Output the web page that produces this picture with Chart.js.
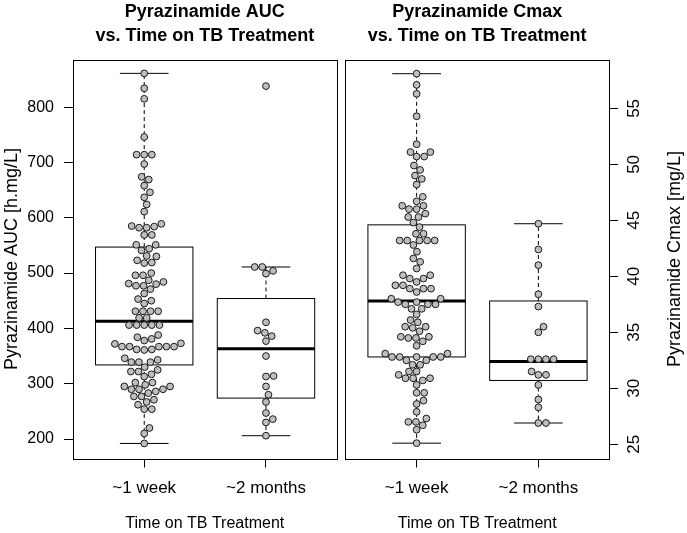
<!DOCTYPE html>
<html>
<head>
<meta charset="utf-8">
<script src="https://cdn.jsdelivr.net/npm/chart.js@4"></script>
<style>
  body { margin: 0; background: #fff; }
  canvas { position: absolute; top: 0; }
</style>
</head>
<body>
<canvas id="auc" width="341" height="533" style="left:0"></canvas>
<canvas id="cmax" width="346" height="533" style="left:341px"></canvas>
<script>
const groups = ['~1 week', '~2 months'];

// Pyrazinamide AUC [h.mg/L]
const aucWeek = [861, 834, 815, 746, 714, 714, 714, 697, 674, 669, 658, 646, 637, 624, 611,
  589, 585, 584, 582, 582, 569, 569, 551, 551, 544, 541, 531, 530,
  523, 519, 518, 500, 496, 496, 487, 484, 481, 480, 477, 477, 471,
  463, 453, 450, 445, 431, 431, 431, 431, 419, 419, 406, 406, 406, 406, 406,
  388, 384, 381, 378, 373, 372, 367, 367, 367, 367, 367, 362, 362, 361,
  346, 343, 339, 339, 339, 330, 325, 322, 322, 317, 313,
  302, 302, 298, 295, 295, 290, 290, 290, 286, 283, 277, 277, 271, 267, 262, 254, 254,
  220, 210, 192];
const aucMonths = [838, 511, 511, 504, 499, 411, 396, 392, 386, 377, 350, 314, 313, 295, 280, 267, 247, 236, 230, 206];

// Pyrazinamide Cmax [mg/L]
const cmaxWeek = [58.1, 57.1, 56.3, 54.3, 51.8, 51.1, 51.1, 50.7, 50.7, 49.9, 49.5, 49.0, 48.7, 48.2,
  47.1, 46.7, 46.3, 46.3, 46.0, 46.0, 45.6, 45.3, 45.3, 44.8, 44.4, 43.8, 43.8,
  43.2, 43.2, 43.2, 43.2, 43.2, 42.8, 42.2, 41.6, 41.3, 40.7, 40.1, 40.1, 39.8, 39.8,
  39.5, 39.2, 39.2, 38.9, 38.9, 38.9, 38.6, 38.0, 38.0, 37.7, 37.7, 37.5, 37.5, 37.5,
  37.1, 37.1, 36.6, 36.1, 35.9, 35.5, 35.5, 35.4, 35.1, 34.6, 34.6, 34.5, 34.5, 34.2,
  33.8, 33.1, 33.1, 32.8, 32.8, 32.8, 32.8, 32.8, 32.5, 32.5, 32.1, 32.1, 31.5, 31.5,
  31.2, 30.9, 30.9, 30.9, 30.7, 30.3, 29.6, 29.6, 28.9, 28.6, 27.9, 27.3, 27.0, 27.0,
  26.7, 26.3, 25.1];
const cmaxMonths = [44.7, 42.4, 41.0, 38.4, 37.3, 35.5, 35.0, 32.6, 32.6, 32.6, 32.6,
  31.5, 31.2, 31.2, 30.3, 29.0, 28.3, 26.9, 26.9];

// box stats: lower whisker, Q1, median, Q3, upper whisker
const aucBoxWeek = [192, 334, 413, 547, 861];
const aucBoxMonths = [206, 274, 363, 454, 511];
const cmaxBoxWeek = [25.1, 32.8, 37.8, 44.6, 58.1];
const cmaxBoxMonths = [26.9, 30.7, 32.4, 37.8, 44.7];

const aucTicks = [200, 300, 400, 500, 600, 700, 800];
const cmaxTicks = [25, 30, 35, 40, 45, 50, 55];

const FONT = '"Liberation Sans", Arial, sans-serif';

// boxplots + frame, drawn under the points
const boxPlugin = {
  id: 'boxes',
  beforeDatasetsDraw(chart, args, opts) {
    const {ctx, chartArea: a, scales: {x, y}} = chart;
    const line = (x1, y1, x2, y2) => { ctx.beginPath(); ctx.moveTo(x1, y1); ctx.lineTo(x2, y2); ctx.stroke(); };
    ctx.save();
    ctx.strokeStyle = '#000';
    opts.stats.forEach((s, i) => {
      const cx = x.getPixelForValue(i + 1);
      const half = x.getPixelForValue(i + 1.4) - cx;
      const cap = half / 2;
      const [lo, q1, med, q3, hi] = s.map(v => y.getPixelForValue(v));
      ctx.lineWidth = 1;
      ctx.setLineDash([4, 3]);
      line(cx, q3, cx, hi);
      line(cx, q1, cx, lo);
      ctx.setLineDash([]);
      line(cx - cap, hi, cx + cap, hi);
      line(cx - cap, lo, cx + cap, lo);
      ctx.strokeRect(cx - half, q3, 2 * half, q1 - q3);
      ctx.lineWidth = 3;
      line(cx - half, med, cx + half, med);
    });
    ctx.lineWidth = 1;
    ctx.strokeRect(Math.round(a.left) + 0.5, Math.round(a.top) + 0.5,
      Math.round(a.right - a.left), Math.round(a.bottom - a.top));
    ctx.restore();
  }
};

// right-hand axis: labels read bottom-to-top like R
const rightAxisPlugin = {
  id: 'rightAxis',
  afterDraw(chart, args, opts) {
    if (!opts.title) return;
    const {ctx, chartArea: a, scales: {y}} = chart;
    ctx.save();
    ctx.fillStyle = '#000';
    ctx.textAlign = 'center';
    ctx.textBaseline = 'middle';
    ctx.font = '17px ' + FONT;
    opts.ticks.forEach(v => {
      ctx.save();
      ctx.translate(a.right + 25, y.getPixelForValue(v));
      ctx.rotate(-Math.PI / 2);
      ctx.fillText(String(v), 0, 0);
      ctx.restore();
    });
    ctx.font = '18px ' + FONT;
    ctx.translate(a.right + 66, (a.top + a.bottom) / 2);
    ctx.rotate(-Math.PI / 2);
    ctx.fillText(opts.title, 0, 0);
    ctx.restore();
  }
};

// beeswarm ("swarm" method, ascending priority), computed in pixels
function swarm(chart, values, center) {
  const x = chart.scales.x, y = chart.scales.y;
  const pxPerUnit = x.getPixelForValue(2) - x.getPixelForValue(1);
  const d = 7.6;
  const pts = values.map((v, i) => ({i, py: y.getPixelForValue(v), px: 0}));
  const order = [...pts].sort((p, q) => q.py - p.py);
  const placed = [];
  order.forEach(p => {
    const cands = [0];
    placed.forEach(q => {
      const dy = Math.abs(p.py - q.py);
      if (dy < d) {
        const dx = Math.sqrt(d * d - dy * dy);
        cands.push(q.px + dx, q.px - dx);
      }
    });
    cands.sort((a, b) => Math.abs(a) - Math.abs(b));
    for (const c of cands) {
      if (placed.every(q => (c - q.px) ** 2 + (p.py - q.py) ** 2 >= d * d - 0.01)) { p.px = c; break; }
    }
    placed.push(p);
  });
  return pts.map(p => ({x: center + p.px / pxPerUnit, y: values[p.i]}));
}

function makePanel(id, title, week, months, boxes, ticks, yMin, yMax, yTitle, right) {
  const pointStyle = {
    pointRadius: 3.4,
    pointHoverRadius: 3.4,
    pointBackgroundColor: '#bebebe',
    pointBorderColor: '#1a1a1a',
    pointBorderWidth: 1,
    showLine: false
  };
  const chart = new Chart(document.getElementById(id), {
    type: 'scatter',
    data: {
      datasets: [
        {data: week.map(v => ({x: 1, y: v})), ...pointStyle},
        {data: months.map(v => ({x: 2, y: v})), ...pointStyle}
      ]
    },
    options: {
      responsive: false,
      animation: false,
      devicePixelRatio: 1,
      layout: {padding: right ? {left: 3, right: 0, top: 0, bottom: 0} : {left: 0, right: 2, top: 0, bottom: 0}},
      plugins: {
        legend: {display: false},
        tooltip: {enabled: false},
        title: {
          display: true,
          text: title,
          fullSize: false,
          color: '#000',
          font: {family: FONT, size: 18, weight: 'bold', lineHeight: 1.35},
          padding: {top: 0, bottom: 11}
        },
        boxes: {stats: boxes},
        rightAxis: right ? {title: yTitle, ticks: ticks} : {}
      },
      scales: {
        x: {
          type: 'linear',
          min: 0.415,
          max: 2.58,
          afterBuildTicks: s => { s.ticks = groups.map((g, i) => ({value: i + 1})); },
          afterFit: s => { s.height = 74.5; },
          ticks: {
            callback: (v, i) => groups[i],
            color: '#000',
            font: {family: FONT, size: 17},
            padding: 11,
            maxRotation: 0,
            autoSkip: false
          },
          grid: {drawOnChartArea: false, drawTicks: true, tickLength: 9, color: '#000', tickColor: '#000'},
          border: {display: false},
          title: {
            display: true,
            text: 'Time on TB Treatment',
            color: '#000',
            font: {family: FONT, size: 16},
            padding: {top: 0, bottom: 0}
          }
        },
        y: {
          position: right ? 'right' : 'left',
          min: yMin,
          max: yMax,
          afterBuildTicks: s => { s.ticks = ticks.map(v => ({value: v})); },
          afterFit: s => { s.width = right ? 78 : 73; },
          ticks: {
            display: !right,
            color: '#000',
            font: {family: FONT, size: 16},
            padding: 10
          },
          grid: {drawOnChartArea: false, drawTicks: true, tickLength: 9, color: '#000', tickColor: '#000'},
          border: {display: false},
          title: {
            display: !right,
            text: yTitle,
            color: '#000',
            font: {family: FONT, size: 18},
            padding: {top: 1, bottom: 0}
          }
        }
      }
    },
    plugins: [boxPlugin, rightAxisPlugin]
  });
  chart.data.datasets[0].data = swarm(chart, week, 1);
  chart.data.datasets[1].data = swarm(chart, months, 2);
  chart.update('none');
  return chart;
}

makePanel('auc', ['Pyrazinamide AUC', 'vs. Time on TB Treatment'], aucWeek, aucMonths,
  [aucBoxWeek, aucBoxMonths], aucTicks, 164.8, 885.9, 'Pyrazinamide AUC [h.mg/L]', false);
makePanel('cmax', ['Pyrazinamide Cmax', 'vs. Time on TB Treatment'], cmaxWeek, cmaxMonths,
  [cmaxBoxWeek, cmaxBoxMonths], cmaxTicks, 23.73, 59.36, 'Pyrazinamide Cmax [mg/L]', true);
</script>
</body>
</html>
